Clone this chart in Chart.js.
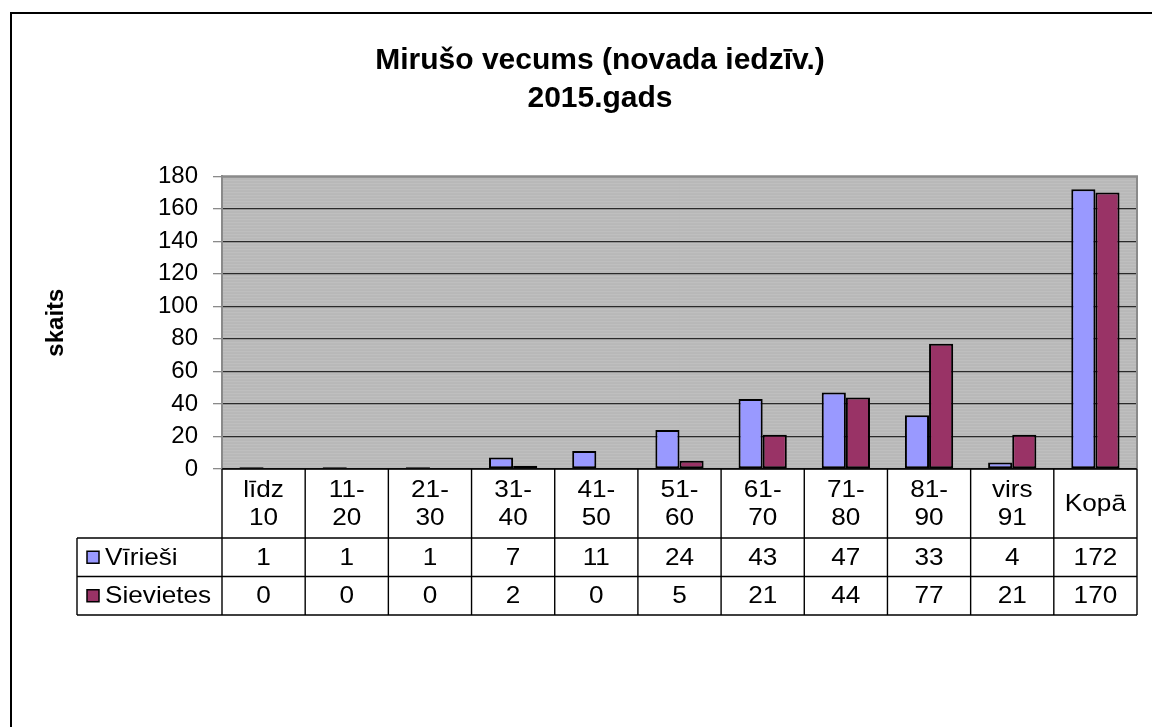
<!DOCTYPE html>
<html>
<head>
<meta charset="utf-8">
<script src="https://cdn.jsdelivr.net/npm/chart.js@4"></script>
<style>
  html, body { margin: 0; padding: 0; background: #fff; }
  #wrap { width: 1152px; height: 727px; position: relative; }
</style>
</head>
<body>
<div id="wrap"><canvas id="c" width="1152" height="727"></canvas></div>
<script>
const categories = [["līdz", "10"], ["11-", "20"], ["21-", "30"], ["31-", "40"], ["41-", "50"], ["51-", "60"], ["61-", "70"], ["71-", "80"], ["81-", "90"], ["virs", "91"], ["Kopā"]];
const seriesNames = ["Vīrieši", "Sievietes"];
const viriesi = [1, 1, 1, 7, 11, 24, 43, 47, 33, 4, 172];
const sievietes = [0, 0, 0, 2, 0, 5, 21, 44, 77, 21, 170];
const seriesColors = ["#9999ff", "#993366"];
const titleLines = ["Mirušo vecums (novada iedzīv.)", "2015.gads"];
const yAxisTitle = "skaits";
const yMin = 0, yMax = 180, yStep = 20;

const FONT = "Arial, 'Liberation Sans', sans-serif";

function stretchedText(ctx, text, x, y, align, sx) {
  ctx.save();
  ctx.translate(x, y);
  ctx.scale(sx, 1);
  ctx.textAlign = align;
  ctx.fillText(text, 0, 0);
  ctx.restore();
}

const framePlugin = {
  id: 'frame',
  beforeDraw(chart) {
    const ctx = chart.ctx, a = chart.chartArea;
    ctx.save();
    ctx.fillStyle = '#fff';
    ctx.fillRect(0, 0, chart.width, chart.height);
    ctx.strokeStyle = '#000';
    ctx.lineWidth = 2;
    ctx.strokeRect(11, 13, 1300, 900);
    ctx.fillStyle = '#b8b8b8';
    ctx.fillRect(a.left, a.top, a.right - a.left, a.bottom - a.top);
    ctx.strokeStyle = 'rgba(255,255,255,0.12)';
    ctx.lineWidth = 1;
    for (let y = a.top + 1.5; y < a.bottom; y += 3) {
      ctx.beginPath(); ctx.moveTo(a.left, y); ctx.lineTo(a.right, y); ctx.stroke();
    }
    ctx.restore();
  },
  afterDatasetsDraw(chart) {
    const ctx = chart.ctx, a = chart.chartArea;
    ctx.save();
    ctx.strokeStyle = '#8a8a8a';
    ctx.lineWidth = 2;
    ctx.beginPath();
    ctx.moveTo(a.left, a.top); ctx.lineTo(a.right, a.top); ctx.lineTo(a.right, a.bottom);
    ctx.stroke();
    ctx.restore();
  },
  afterDraw(chart) {
    const ctx = chart.ctx, a = chart.chartArea;
    const x = chart.scales.x;
    const n = categories.length;
    const w = (a.right - a.left) / n;
    const rowTop = a.bottom;
    const headH = 69, rowH = 38.5;
    const r1 = rowTop + headH, r2 = r1 + rowH, r3 = r2 + rowH;
    const legLeft = 77;
    const SX = 1.09;
    ctx.save();
    ctx.strokeStyle = '#000';
    ctx.lineWidth = 1.4;
    ctx.beginPath();
    ctx.moveTo(a.left, rowTop); ctx.lineTo(a.right, rowTop);
    [r1, r2, r3].forEach(yy => { ctx.moveTo(legLeft, yy); ctx.lineTo(a.right, yy); });
    for (let i = 0; i <= n; i++) {
      const xx = a.left + i * w;
      ctx.moveTo(xx, rowTop); ctx.lineTo(xx, r3);
    }
    ctx.moveTo(legLeft, r1); ctx.lineTo(legLeft, r3);
    ctx.stroke();
    ctx.fillStyle = '#000';
    ctx.font = '24px ' + FONT;
    ctx.textBaseline = 'middle';
    categories.forEach((lab, i) => {
      const cx = x.getPixelForValue(i);
      const lines = Array.isArray(lab) ? lab : [lab];
      const lh = 28;
      const mid = rowTop + headH / 2 + 1;
      lines.forEach((t, j) => {
        stretchedText(ctx, t, cx, mid + (j - (lines.length - 1) / 2) * lh, 'center', SX);
      });
    });
    const dataRows = [viriesi, sievietes];
    const rowYs = [r1 + rowH / 2, r2 + rowH / 2];
    dataRows.forEach((arr, k) => {
      arr.forEach((v, i) => {
        stretchedText(ctx, String(v), x.getPixelForValue(i), rowYs[k] + 1, 'center', SX);
      });
    });
    seriesNames.forEach((nm, k) => {
      const cy = rowYs[k];
      ctx.fillStyle = seriesColors[k];
      ctx.fillRect(87, cy - 6, 12, 12);
      ctx.strokeStyle = '#000';
      ctx.lineWidth = 1.5;
      ctx.strokeRect(87, cy - 6, 12, 12);
      ctx.fillStyle = '#000';
      stretchedText(ctx, nm, 105, cy + 1, 'left', SX);
    });
    ctx.restore();
  }
};

new Chart(document.getElementById('c'), {
  type: 'bar',
  data: {
    labels: categories,
    datasets: [
      { label: seriesNames[0], data: viriesi, backgroundColor: seriesColors[0], borderColor: '#000', borderWidth: 2, borderSkipped: false },
      { label: seriesNames[1], data: sievietes, backgroundColor: seriesColors[1], borderColor: '#000', borderWidth: 2, borderSkipped: false }
    ]
  },
  options: {
    responsive: false,
    animation: false,
    devicePixelRatio: 1,
    layout: { padding: { left: 63, right: 15, top: 0, bottom: 258 } },
    datasets: { bar: { barPercentage: 1, categoryPercentage: 0.58 } },
    plugins: {
      legend: { display: false },
      tooltip: { enabled: false },
      title: {
        display: true,
        text: titleLines,
        color: '#000',
        font: { family: FONT, size: 30, weight: 'bold', lineHeight: 1.27 },
        padding: { top: 42, bottom: 58 }
      }
    },
    scales: {
      x: { display: false },
      y: {
        min: yMin, max: yMax,
        afterFit(scale) { scale.width = 159; },
        ticks: { stepSize: yStep, color: '#000', padding: 15, font: { family: FONT, size: 24 } },
        grid: { color: '#2a2a2a', lineWidth: 1.3, tickColor: '#8a8a8a', tickLength: 9, drawOnChartArea: true },
        border: { color: '#8a8a8a', width: 2 },
        title: { display: true, text: yAxisTitle, color: '#000', font: { family: FONT, size: 24, weight: 'bold' }, padding: { top: -21, bottom: 0 } }
      }
    }
  },
  plugins: [framePlugin]
});
</script>
</body>
</html>
